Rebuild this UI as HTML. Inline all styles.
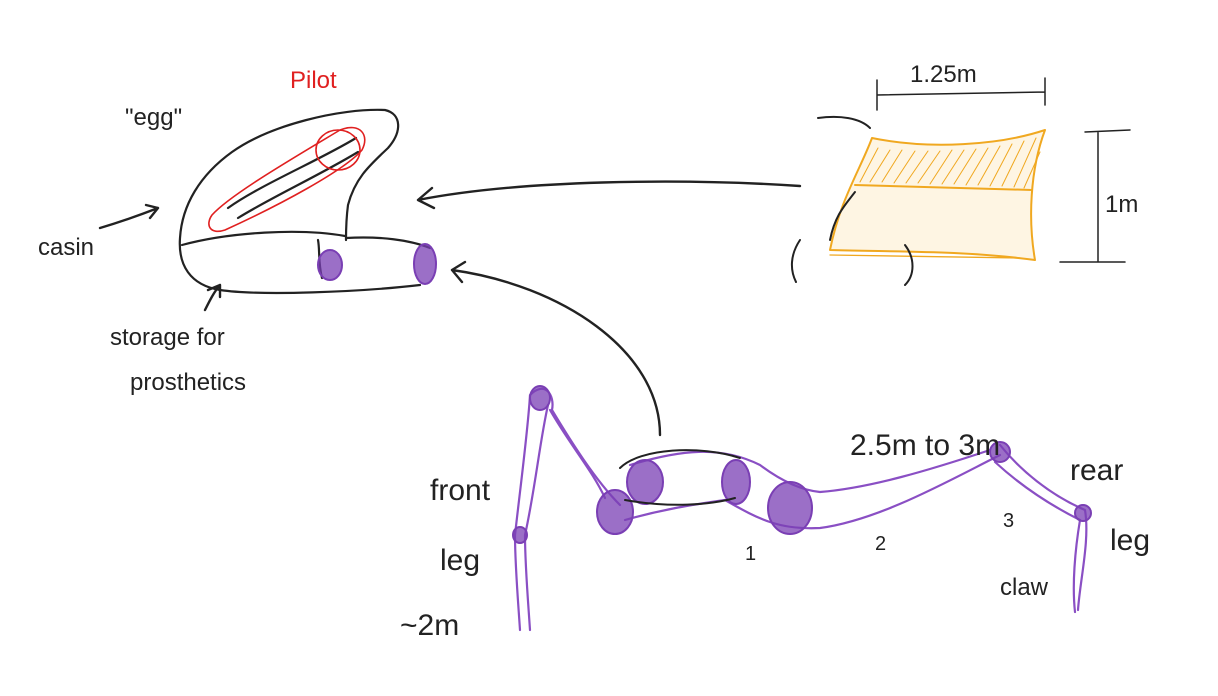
<!DOCTYPE html>
<html><head><meta charset="utf-8"><style>
html,body{margin:0;padding:0;background:#fff;}
svg{display:block}
text{font-family:"Liberation Sans",sans-serif;}
</style></head><body>
<svg width="1218" height="696" viewBox="0 0 1218 696">
<g fill="none" stroke-linecap="round" stroke-linejoin="round">
 <g stroke="#222" stroke-width="2.2">
  <path d="M420,285 C360,292 260,296 220,290 C190,285 178,265 180,238 C182,205 200,175 232,152 C270,125 340,108 385,110 C402,114 402,132 388,148 C370,165 355,178 348,205 C346,220 346,232 346,240"/>
  <path d="M182,245 C230,232 300,228 345,236"/>
  <path d="M318,240 C320,250 318,262 322,278"/>
  <path d="M346,238 C380,236 410,240 430,248"/>
  <path d="M228,208 C260,185 320,160 356,138"/>
  <path d="M238,218 C270,198 320,175 358,152"/>
 </g>
 <g stroke="#e02020" stroke-width="1.6">
  <ellipse cx="338" cy="150" rx="22" ry="20"/>
  <path d="M212,215 C230,195 290,160 340,130 C360,122 370,135 362,150 C345,170 280,205 225,230 C210,235 205,225 212,215 Z"/>
 </g>
 <g stroke="#7a3fb4" stroke-width="2" fill="#7a3fb4" fill-opacity="0.75">
  <ellipse cx="330" cy="265" rx="12" ry="15"/>
  <ellipse cx="425" cy="264" rx="11" ry="20"/>
 </g>
 <g stroke="#f0a820" stroke-width="2">
  <path d="M872,138 C930,150 1000,145 1045,130 C1030,170 1028,220 1035,260 C960,250 890,252 830,250 C840,200 860,170 872,138 Z" fill="#fbe3b0" fill-opacity="0.35"/>
  <path d="M855,185 L1032,190" />
  <path d="M830,255 L1020,258" stroke-width="1.3"/>
  <path d="M860,182 L878,148 M870,182 L890,150 M882,182 L902,150 M894,183 L915,151 M906,183 L928,151 M918,183 L940,151 M930,184 L952,150 M942,184 L964,150 M954,184 L976,149 M966,185 L988,148 M978,185 L1000,146 M990,186 L1012,144 M1002,186 L1024,141 M1014,187 L1036,138 M1024,188 L1040,152" stroke-width="1"/>
 </g>
 <g stroke="#222" stroke-width="2">
  <path d="M818,118 C840,115 860,118 870,128"/>
  <path d="M830,240 C835,215 845,205 855,192"/>
  <path d="M800,240 C790,255 790,270 796,282"/>
  <path d="M905,245 C915,258 915,275 905,285"/>
 </g>
 <g stroke="#222" stroke-width="1.5">
  <path d="M877,95 L1045,92 M877,80 L877,110 M1045,78 L1045,105"/>
  <path d="M1098,132 L1098,262 M1085,132 L1130,130 M1060,262 L1125,262"/>
 </g>
 <g stroke="#222" stroke-width="2.4">
  <path d="M800,186 C680,178 520,180 418,200 M418,200 L432,188 M418,200 L434,208"/>
  <path d="M660,435 C660,350 560,285 452,270 M452,270 L465,262 M452,270 L462,282"/>
  <path d="M100,228 C120,222 140,215 158,208 M158,208 L146,205 M158,208 L150,218"/>
  <path d="M205,310 C210,300 214,292 220,285 M220,285 L208,290 M220,285 L220,297"/>
 </g>
 <g stroke="#8a4fc4" stroke-width="2.2">
  <path d="M520,630 C518,600 515,565 515,535 C520,490 528,430 530,395 C545,380 555,395 552,410 C570,440 595,480 620,505"/>
  <path d="M530,630 C528,600 525,565 525,535 C535,490 540,440 548,405"/>
  <path d="M550,410 C570,445 592,470 605,498"/>
  <path d="M625,520 C660,510 690,505 725,500 C760,520 780,530 820,528 C880,520 950,480 1000,455"/>
  <path d="M630,465 C680,450 720,445 760,465 C780,480 800,490 820,492 C870,488 930,470 990,450"/>
  <path d="M1000,445 C1020,470 1050,495 1085,510 C1090,540 1080,580 1078,610"/>
  <path d="M995,462 C1020,485 1050,505 1080,520 C1075,550 1072,585 1075,612"/>
 </g>
 <g stroke="#7a3fb4" stroke-width="2" fill="#7a3fb4" fill-opacity="0.75">
  <ellipse cx="540" cy="398" rx="10" ry="12"/>
  <ellipse cx="520" cy="535" rx="7" ry="8"/>
  <ellipse cx="615" cy="512" rx="18" ry="22"/>
  <ellipse cx="645" cy="482" rx="18" ry="22"/>
  <ellipse cx="736" cy="482" rx="14" ry="22"/>
  <ellipse cx="790" cy="508" rx="22" ry="26"/>
  <ellipse cx="1000" cy="452" rx="10" ry="10"/>
  <ellipse cx="1083" cy="513" rx="8" ry="8"/>
 </g>
 <g stroke="#222" stroke-width="2">
  <path d="M620,468 C640,448 700,445 740,458 M625,500 C670,508 710,505 735,498"/>
 </g>
</g>
<g font-size="24" fill="#222">
 <text x="125" y="125">"egg"</text>
 <text x="290" y="88" fill="#e02020">Pilot</text>
 <text x="38" y="255">casin</text>
 <text x="110" y="345">storage for</text>
 <text x="130" y="390">prosthetics</text>
 <text x="910" y="82">1.25m</text>
 <text x="1105" y="212">1m</text>
 <text x="430" y="500" font-size="30">front</text>
 <text x="440" y="570" font-size="30">leg</text>
 <text x="400" y="635" font-size="30">~2m</text>
 <text x="850" y="455" font-size="30">2.5m to 3m</text>
 <text x="1070" y="480" font-size="30">rear</text>
 <text x="1110" y="550" font-size="30">leg</text>
 <text x="1000" y="595">claw</text>
 <text x="745" y="560" font-size="20">1</text>
 <text x="875" y="550" font-size="20">2</text>
 <text x="1003" y="527" font-size="20">3</text>
</g>
</svg>
</body></html>
